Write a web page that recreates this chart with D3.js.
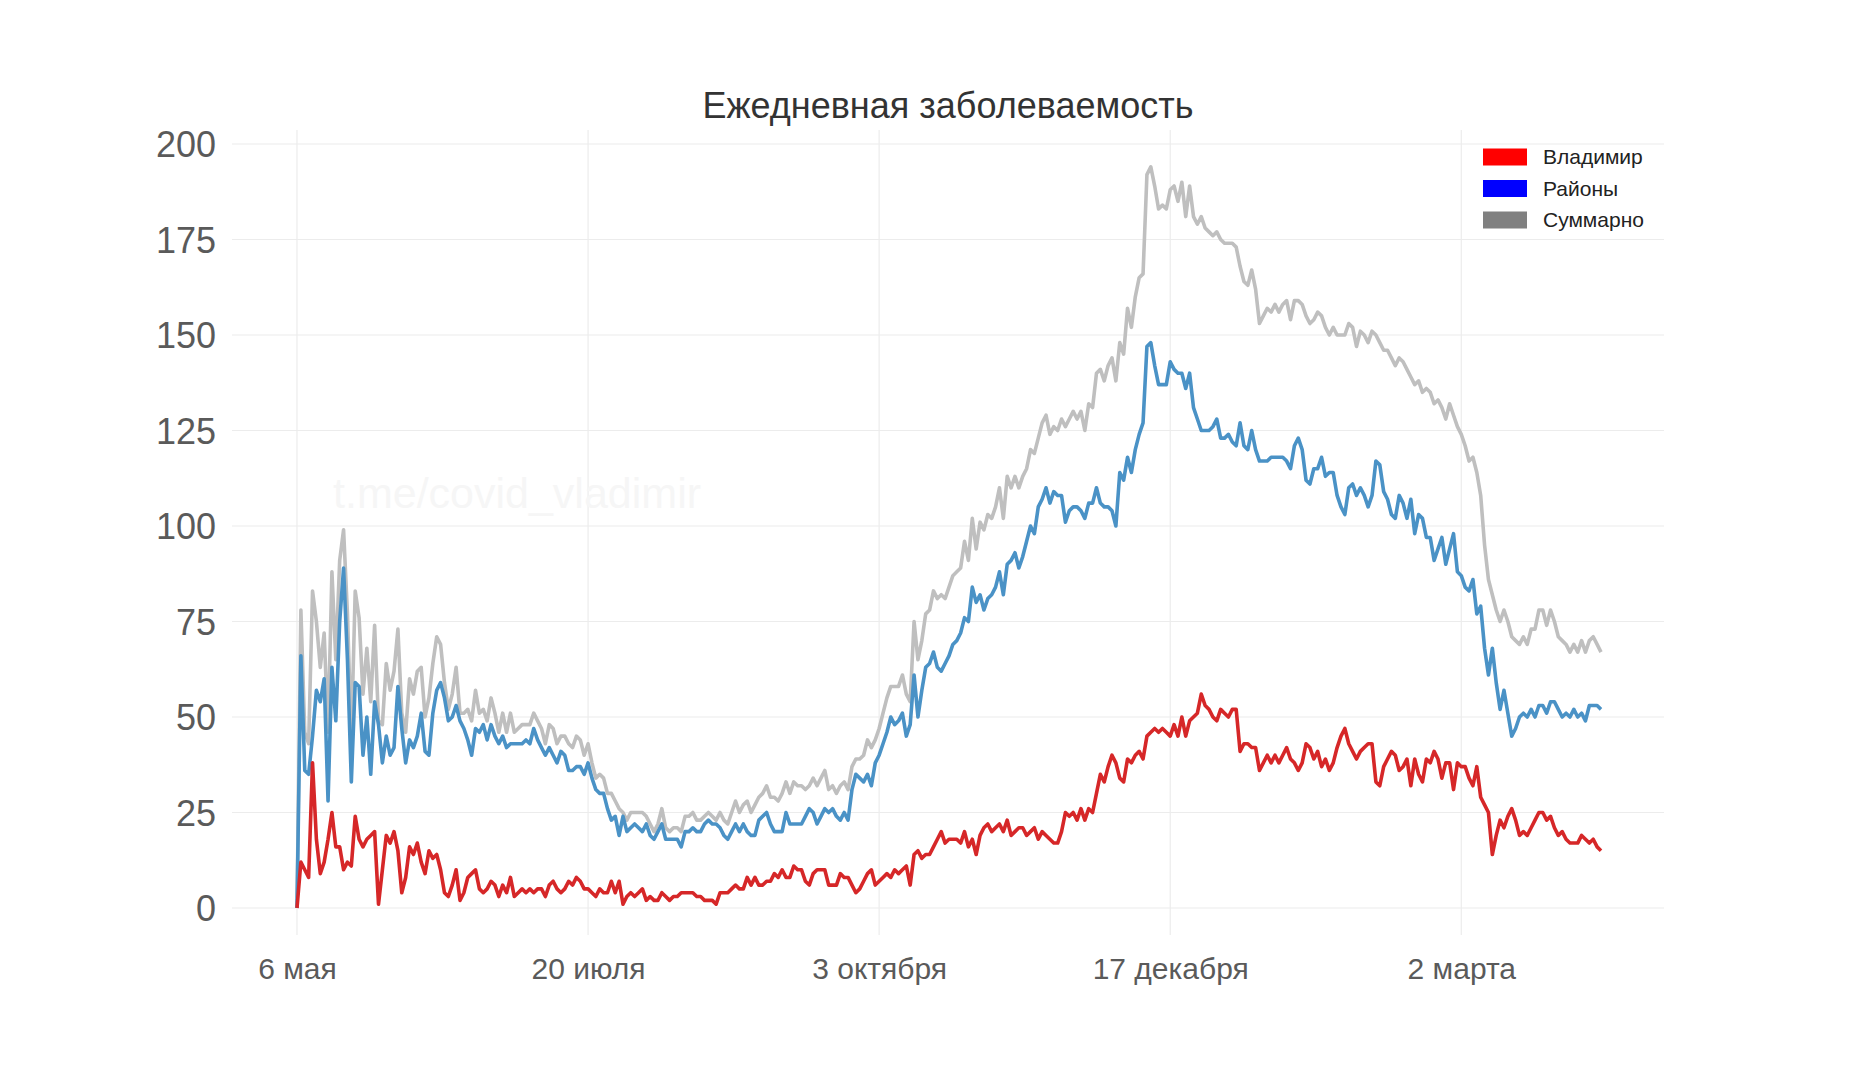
<!DOCTYPE html>
<html><head><meta charset="utf-8">
<script src="https://cdn.jsdelivr.net/npm/d3@7"></script>
<style>body{margin:0;background:#fff}svg{display:block;font-family:"Liberation Sans",Arial,sans-serif}</style>
</head><body><svg id="c" width="1851" height="1080"></svg>
<script>
const startDate = "2020-05-06";
const tickLabels = ["6 мая","20 июля","3 октября","17 декабря","2 марта"];
const tickDays = [0,75,150,225,300];
const yTicks = [0,25,50,75,100,125,150,175,200];
const seriesNames = ["Владимир","Районы","Суммарно"];
const vladimir = [0,12,10,8,38,18,9,12,18,25,
16,16,10,12,11,24,18,16,18,19,
20,1,10,19,17,20,15,4,8,16,
14,17,12,9,15,13,14,10,4,3,
6,10,2,4,8,9,10,5,4,5,
7,6,3,6,4,8,3,4,5,4,
5,4,5,5,3,6,7,5,4,5,
7,6,8,7,5,5,
4,3,5,4,4,7,4,7,1,3,4,3,4,5,
2,3,2,2,4,3,2,3,3,4,
4,4,4,3,3,2,2,2,1,4,
4,4,5,6,5,5,8,6,8,6,
6,7,7,9,8,10,8,8,11,10,
10,7,6,9,10,10,10,6,6,6,
9,8,8,6,4,5,7,9,10,6,7,
8,9,8,10,9,10,11,6,14,15,13,14,14,16,18,20,17,18,18,
18,17,20,16,18,14,19,21,22,20,
21,22,20,23,19,20,21,21,19,20,21,18,20,19,18,17,17,20,25,24,
25,23,26,23,26,25,30,35,33,37,40,38,34,33,39,38,40,41,39,45,
46,47,46,47,46,45,48,45,50,45,
49,50,51,56,53,52,50,49,52,51,
50,52,52,41,43,43,42,42,36,38,40,38,40,
38,40,42,39,38,36,38,43,42,39,41,37,39,36,38,42,45,
47,43,41,39,41,42,43,43,33,32,37,39,41,40,36,37,39,32,39,35,
33,39,38,41,39,34,38,38,31,38,37,37,34,32,37,29,27,25,14,19,
23,21,24,26,23,19,20,19,21,23,25,25,23,24,21,19,20,18,17,17,17,19,18,17,18,16,15];
const rayony = [0,66,36,35,45,57,54,60,28,63,
49,75,89,65,33,59,58,40,50,35,
54,48,38,45,40,42,58,47,38,44,
42,45,51,41,40,51,57,59,55,49,
50,53,49,47,44,40,47,46,48,44,
48,45,43,45,42,43,43,43,
43,44,43,47,44,42,40,42,40,38,41,40,36,36,37,37,35,38,
34,31,30,30,26,23,24,19,24,20,21,22,21,20,
22,19,18,20,22,18,18,18,18,16,
20,20,21,20,20,22,23,22,22,21,
19,18,20,22,20,22,20,19,19,23,
24,25,22,20,20,20,25,22,22,22,
22,24,26,25,22,24,26,25,26,24,
23,25,23,31,35,34,33,35,32,38,40,
43,46,50,48,49,51,45,48,61,50,57,63,64,67,63,62,64,66,69,
70,72,76,75,84,80,82,78,81,82,
84,88,82,90,91,93,89,92,96,100,98,105,107,110,106,109,108,108,101,104,
105,105,104,102,106,106,110,106,105,105,104,100,114,112,118,114,120,124,127,147,
148,142,137,137,137,143,141,140,140,136,
140,131,128,125,125,125,126,128,123,123,
124,122,121,127,121,120,125,120,117,117,117,118,118,
118,118,117,115,121,123,120,112,111,115,115,118,113,114,114,108,105,
103,110,111,108,110,108,105,108,117,116,109,107,103,102,108,106,102,107,98,103,
102,97,97,91,94,97,90,94,98,88,87,84,83,86,77,79,68,61,68,59,
52,57,51,45,47,50,51,50,52,50,53,53,51,54,54,52,50,51,50,52,50,51,49,53,53,53,52];
const summarno = vladimir.map((v,i)=>v+rayony[i]);

const svg = d3.select("#c");
const t0 = d3.timeParse("%Y-%m-%d")(startDate);
const dayDate = i => d3.timeDay.offset(t0, i);
const x = d3.scaleTime().domain([t0, dayDate(336)]).range([297, 1601]);
const y = d3.scaleLinear().domain([0,200]).range([908,144]);

svg.append("g").selectAll("line").data(yTicks).join("line")
  .attr("x1",232).attr("x2",1664).attr("y1",d=>y(d)).attr("y2",d=>y(d))
  .attr("stroke","#ececec").attr("stroke-width",1.2);
svg.append("g").selectAll("line").data(tickDays).join("line")
  .attr("x1",d=>x(dayDate(d))).attr("x2",d=>x(dayDate(d))).attr("y1",130).attr("y2",935)
  .attr("stroke","#ececec").attr("stroke-width",1.2);

svg.append("text").attr("x",333).attr("y",508).attr("font-size",43).attr("fill","#f6f6f6").text("t.me/covid_vladimir");

const yAxis = d3.axisLeft(y).tickValues(yTicks).tickSize(0).tickPadding(0);
const gy = svg.append("g").attr("transform","translate(216,0)").call(yAxis);
gy.select(".domain").remove();
gy.selectAll("text").attr("font-size",36).attr("fill","#5a5a5a").attr("font-family","Liberation Sans, Arial").attr("dy","0.35em");
const xAxis = d3.axisBottom(x).tickValues(tickDays.map(dayDate)).tickFormat((d,i)=>tickLabels[i]).tickSize(0).tickPadding(0);
const gx = svg.append("g").attr("transform","translate(0,958)").call(xAxis);
gx.select(".domain").remove();
gx.selectAll("text").attr("font-size",30).attr("fill","#5a5a5a").attr("font-family","Liberation Sans, Arial");

const line = d3.line().x((d,i)=>x(dayDate(i))).y(d=>y(d));
const series = [[summarno,"#bfbfbf"],[rayony,"#4a92c6"],[vladimir,"#d62728"]];
series.forEach(([data,col])=>{
  svg.append("path").datum(data).attr("d",line).attr("fill","none")
    .attr("stroke",col).attr("stroke-width",3.6).attr("stroke-linejoin","round");
});

svg.append("text").attr("x",948).attr("y",118).attr("text-anchor","middle")
  .attr("font-size",36).attr("fill","#333").text("Ежедневная заболеваемость");

const legCols = ["#ff0000","#0000ff","#808080"];
const lg = svg.append("g").selectAll("g").data(seriesNames).join("g")
  .attr("transform",(d,i)=>`translate(1483,${157+i*31.5})`);
lg.append("rect").attr("x",0).attr("y",-8.5).attr("width",44).attr("height",17).attr("fill",(d,i)=>legCols[i]);
lg.append("text").attr("x",60).attr("y",0).attr("dy","0.35em").attr("font-size",21).attr("fill","#222").text(d=>d);
</script></body></html>
